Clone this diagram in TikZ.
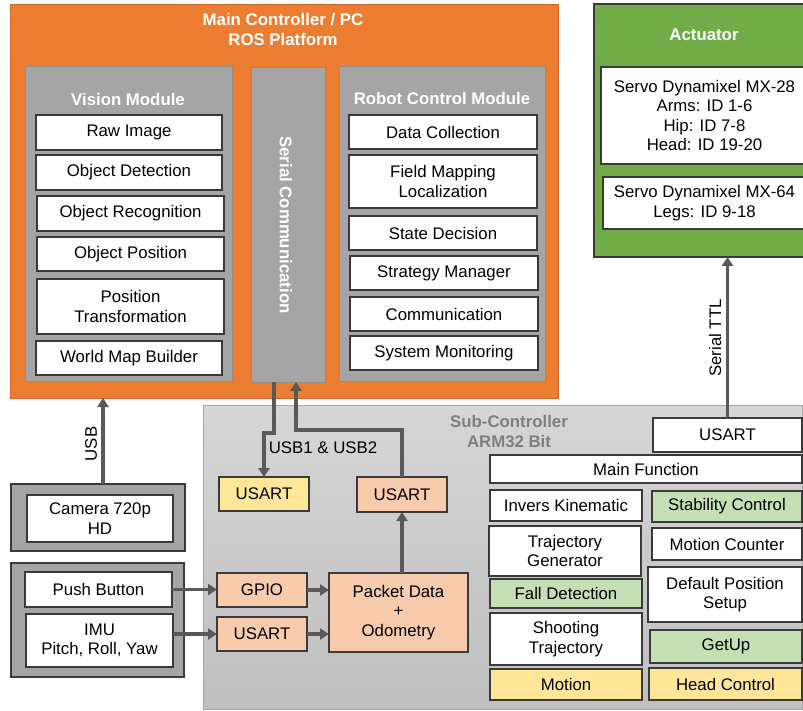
\documentclass[tikz,border=0pt]{standalone}
\usepackage{fontspec}
\setmainfont{Liberation Sans}
\usetikzlibrary{arrows.meta}
\definecolor{orng}{HTML}{ED7D31}
\definecolor{orngline}{HTML}{D0682A}
\definecolor{modgray}{HTML}{A5A5A5}
\definecolor{modline}{HTML}{8E8E8E}
\definecolor{boxline}{HTML}{3A3A3A}
\definecolor{grn}{HTML}{70AD47}
\definecolor{lgrn}{HTML}{C5E0B4}
\definecolor{ylw}{HTML}{FFE699}
\definecolor{pch}{HTML}{F8CBAD}
\definecolor{arrc}{HTML}{595959}
\definecolor{subttl}{HTML}{7F7F7F}
\definecolor{subline}{HTML}{A6A6A6}
\newcommand\bx[7][]{\node[box,#1,minimum width={(#5-#3)*1pt},minimum height={(#6-#4)*1pt}] (#2) at ({(#3+#5)/2},{(#4+#6)/2}) {#7};}
\begin{document}
\begin{tikzpicture}[x=1pt,y=-1pt,
  font=\fontsize{16.8}{19.5}\selectfont,
  box/.style={draw=boxline, line width=1.2pt, fill=white, align=center, inner sep=0pt, outer sep=0pt, text=black},
  modbox/.style={draw=modline, line width=1pt, fill=modgray},
  grpbox/.style={draw=boxline, line width=1.3pt, fill=modgray},
  arr/.style={draw=arrc, line width=3.2pt, -{Triangle[width=11pt,length=9pt]}},
  ttl/.style={font=\fontsize{16.8}{19.5}\selectfont\bfseries, text=white, align=center},
]
\clip (0,0) rectangle (803,711);
\useasboundingbox (0,0) rectangle (803,711);
\fill[white] (0,0) rectangle (803,711);

% Main controller
\bx[draw=orngline, line width=0.8pt, fill=orng]{main}{10}{4}{558}{398}{}
\node[ttl] (maint) at (283,29.5) {Main Controller / PC\\ROS Platform};

% Vision module
\bx[modbox]{vis}{25}{67}{232}{381}{}
\node[ttl] (vist) at (128,99) {Vision Module};
\bx{raw}{36}{115}{222}{150}{Raw Image}
\bx{det}{36}{155}{222}{190}{Object Detection}
\bx{rec}{37}{196}{224}{231}{Object Recognition}
\bx{pos}{37}{237}{224}{271}{Object Position}
\bx{ptr}{37}{279}{224}{334}{Position\\Transformation}
\bx{wmb}{36}{341}{222}{375}{World Map Builder}

% Serial communication
\bx[modbox]{ser}{251}{68}{325}{382}{}
\node[ttl, rotate=-90] (sert) at (286,225) {Serial Communication};

% Robot control module
\bx[modbox]{rcm}{339}{67}{545}{381}{}
\node[ttl] (rcmt) at (442,98) {Robot Control Module};
\bx{dc}{349}{115}{537}{149}{Data Collection}
\bx{fm}{349}{155}{537}{208}{Field Mapping\\Localization}
\bx{sd}{349}{216}{537}{250}{State Decision}
\bx{sm}{350}{256}{538}{290}{Strategy Manager}
\bx{com}{350}{297}{538}{331}{Communication}
\bx{sys}{350}{336}{538}{370}{System Monitoring}

% Actuator
\bx[fill=grn, line width=1.2pt]{act}{594}{4}{812}{257}{}
\node[ttl] (actt) at (704,35) {Actuator};
\bx{mx28}{601}{67}{808}{164}{Servo Dynamixel MX-28\\Arms: ID 1-6\\Hip: ID 7-8\\Head: ID 19-20}
\bx{mx64}{603}{177}{806}{229}{Servo Dynamixel MX-64\\Legs: ID 9-18}

% Sub-controller
\bx[draw=subline, line width=1pt, top color=black!16, bottom color=black!25, fill=none]{sub}{203}{405}{802}{709}{}
\node[font=\fontsize{16.8}{19.5}\selectfont\bfseries, text=subttl, align=center] (subt) at (509,431.5) {Sub-Controller\\ARM32 Bit};
\bx{usr}{653}{418}{802}{452}{USART}
\bx{mf}{490}{455}{802}{483}{Main Function}
\bx{ik}{490}{490}{642}{521}{Invers Kinematic}
\bx{tg}{489}{526}{641}{576}{Trajectory\\Generator}
\bx[fill=lgrn]{fd}{490}{579}{642}{608}{Fall Detection}
\bx{st}{490}{613}{642}{665}{Shooting\\Trajectory}
\bx[fill=ylw]{mo}{490}{669}{642}{700}{Motion}
\bx[fill=lgrn]{sc}{652}{491}{802}{522}{Stability Control}
\bx{mc}{652}{528}{802}{560}{Motion Counter}
\bx{dps}{648}{567}{802}{622}{Default Position\\Setup}
\bx[fill=lgrn]{gu}{650}{630}{802}{663}{GetUp}
\bx[fill=ylw]{hc}{649}{668}{802}{700}{Head Control}

\bx[fill=ylw]{usy}{219}{477}{309}{511}{USART}
\bx[fill=pch]{usp}{357}{477}{447}{512}{USART}
\bx[fill=pch]{gpio}{217}{573}{307}{607}{GPIO}
\bx[fill=pch]{usb}{217}{617}{307}{651}{USART}
\bx[fill=pch]{pkt}{329}{573}{468}{652}{Packet Data\\+\\Odometry}

% Left devices
\bx[grpbox]{camg}{11}{484}{185}{551}{}
\bx{cam}{27}{495}{173}{542}{Camera 720p\\HD}
\bx[grpbox]{ing}{11}{563}{184}{677}{}
\bx{pb}{25}{572}{172}{607}{Push Button}
\bx{imu}{26}{614}{173}{667}{IMU\\Pitch, Roll, Yaw}

% Connectors
\draw[arr] ([xshift=5pt]camg.north) -- ([xshift=5pt]camg.north |- main.south);
\node[rotate=90] (usbl) at (91,444) {USB};
\draw[arr] (usr.north) -- (usr.north |- act.south);
\node[rotate=90] (ttll) at (715,338) {Serial TTL};
\draw[arr] ([xshift=-14pt]ser.south) -- ++(0,51) -| (usy.north);
\draw[arr] (usp.north) -- ++(0,-47) -| ([xshift=8pt]ser.south);
\node (usbl2) at (323,448) {USB1 \& USB2};
\draw[arr] (usp.south |- pkt.north) -- (usp.south);
\draw[arr] (pb.east) -- (pb.east -| gpio.west);
\draw[arr] (imu.east |- usb) -- (usb.west);
\draw[arr] (gpio.east) -- (gpio.east -| pkt.west);
\draw[arr] (usb.east) -- (usb.east -| pkt.west);
\end{tikzpicture}
\end{document}
